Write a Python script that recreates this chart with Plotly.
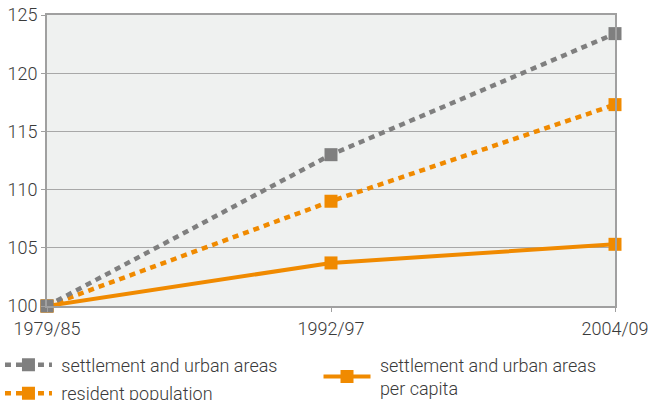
import plotly.graph_objects as go

periods = ["1979/85", "1992/97", "2004/09"]
settlement = [100, 113.0, 123.4]
population = [100, 109.0, 117.3]
per_capita = [100, 103.7, 105.3]

grey = "#7f7f7f"
orange = "#f08a00"
font = dict(family="Roboto", size=18, color="#3a3a3a", weight=300)
NB = "\u00a0"

fig = go.Figure()
fig.add_trace(go.Scatter(
    x=periods, y=per_capita, name=NB + "settlement and urban areas<br>" + NB + "per capita",
    mode="lines+markers", line=dict(color=orange, width=4),
    marker=dict(symbol="square", size=13, color=orange),
    cliponaxis=False, legend="legend2", legendgroup="c"))
fig.add_trace(go.Scatter(
    x=periods, y=population, name=NB + "resident population",
    mode="lines+markers", line=dict(color=orange, width=4.5, dash="6px,5px"),
    marker=dict(symbol="square", size=13, color=orange),
    cliponaxis=False, legend="legend", legendrank=2, legendgroup="b"))
fig.add_trace(go.Scatter(
    x=periods, y=settlement, name=NB + "settlement and urban areas",
    mode="lines+markers", line=dict(color=grey, width=4.5, dash="6px,5px"),
    marker=dict(symbol="square", size=13, color=grey),
    cliponaxis=False, legend="legend", legendrank=1, legendgroup="a"))

fig.update_layout(
    width=649, height=400,
    margin=dict(l=47, r=34, t=15, b=94, autoexpand=False),
    paper_bgcolor="white", plot_bgcolor="#eff1f0",
    font=font,
    legend=dict(x=-0.0828, y=-0.1395, xanchor="left", yanchor="top",
                orientation="v", font=font, itemwidth=47,
                traceorder="grouped", tracegroupgap=2,
                bgcolor="rgba(0,0,0,0)"),
    legend2=dict(x=0.478, y=-0.1395, xanchor="left", yanchor="top",
                 orientation="v", font=font, itemwidth=47,
                 bgcolor="rgba(0,0,0,0)"),
)
fig.update_xaxes(
    type="category", range=[0, 2], showgrid=False, automargin=False,
    showline=True, linecolor="#a0a0a0", linewidth=2, mirror=True,
    ticks="outside", ticklen=4, tickcolor="#a0a0a0", tickwidth=1,
    ticklabelstandoff=1, tickfont=font, zeroline=False)
fig.update_yaxes(
    range=[100, 125], tickvals=[100, 105, 110, 115, 120, 125], automargin=False,
    showgrid=True, gridcolor="#a8a8a8", gridwidth=1.2,
    showline=True, linecolor="#a0a0a0", linewidth=2, mirror=True,
    ticks="outside", ticklen=4, tickcolor="#a0a0a0", tickwidth=1,
    tickfont=font, zeroline=False)

fig.write_html("out.html", config={"displayModeBar": False},
               post_script="document.body.style.margin='0px';")
